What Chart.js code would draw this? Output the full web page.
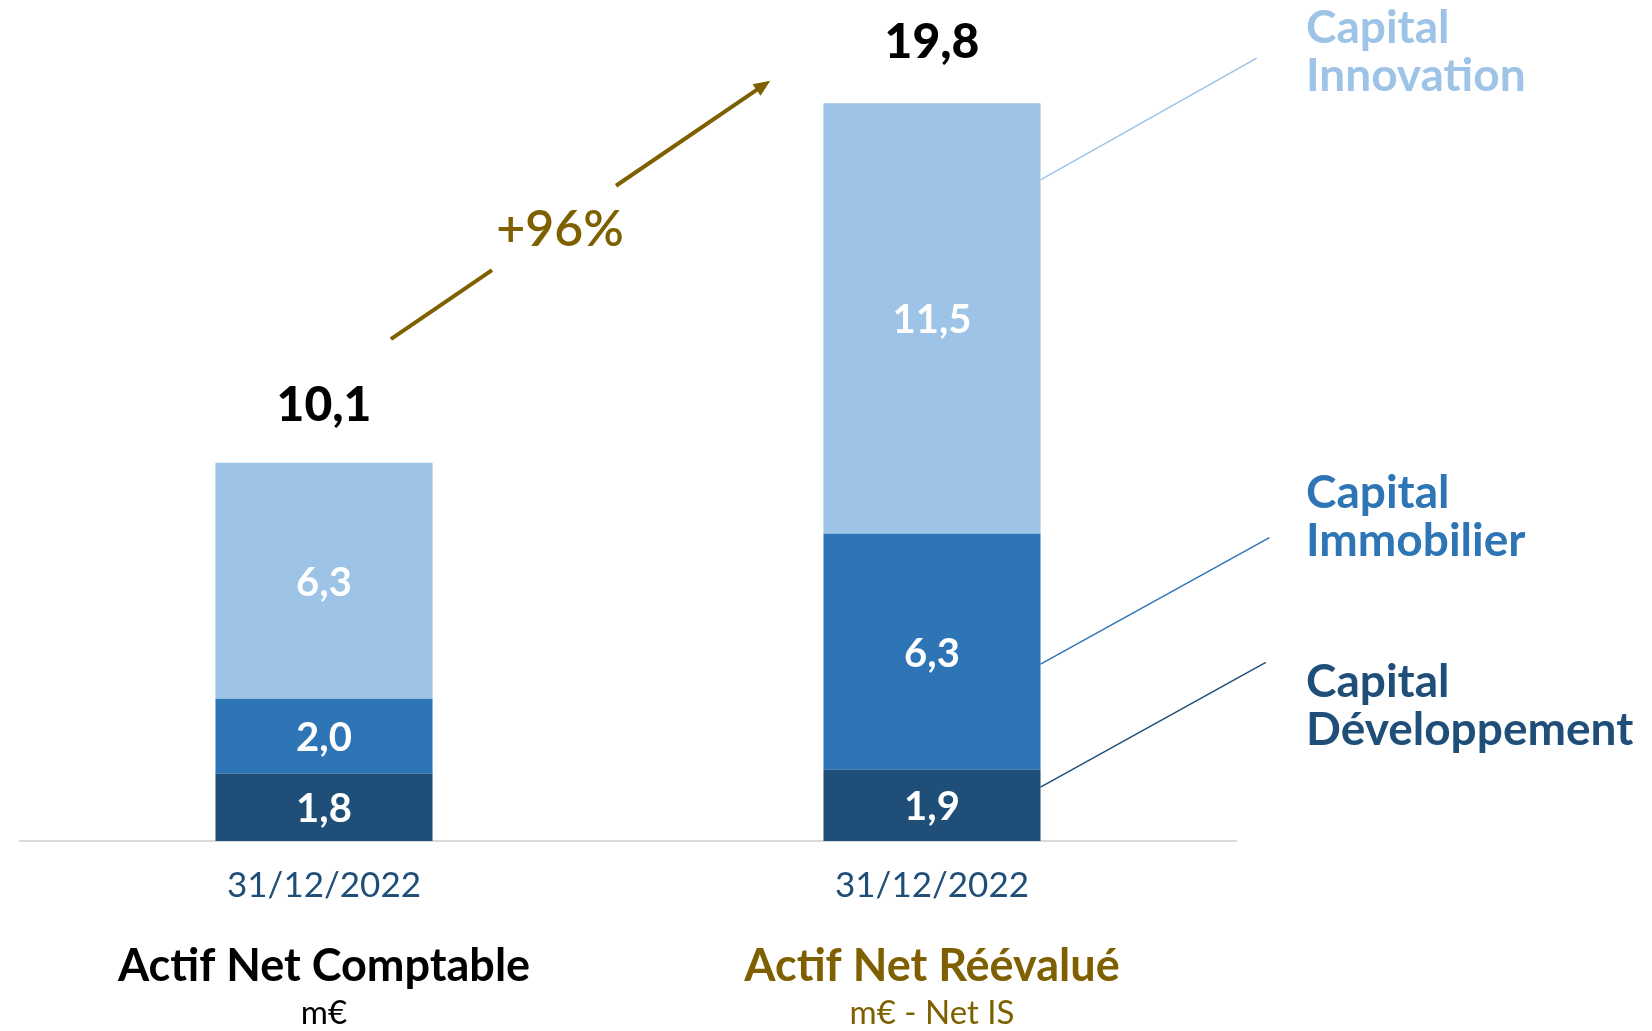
<!DOCTYPE html>
<html>
<head>
<meta charset="utf-8">
<script src="https://cdn.jsdelivr.net/npm/chart.js@4/dist/chart.umd.min.js"></script>
<style>
  html, body { margin: 0; padding: 0; background: #fff; }
  canvas { display: block; }
</style>
</head>
<body>
<canvas id="chart" width="1652" height="1031"></canvas>
<script>
// data (m€)
const categories = ['31/12/2022', '31/12/2022'];
const developpement = [1.8, 1.9];
const immobilier = [2.0, 6.3];
const innovation = [6.3, 11.5];
const totals = [10.1, 19.8];
const titles = ['Actif Net Comptable', 'Actif Net Réévalué'];
const subtitles = ['m€', 'm€ - Net IS'];
const growth = '+96%';

const FONT = 'Lato, "Open Sans", sans-serif';
const NAVY = '#1F4E79';
const BLUE = '#2E75B6';
const LIGHT = '#9DC3E6';
const GOLD = '#7F6000';

const fmt = (v) => v.toFixed(1).replace('.', ',');

// series labels on the right, with a leader line from the second bar
// from/to are in data space: [category index, value]
const seriesLabels = [
  { lines: ['Capital', 'Innovation'], color: LIGHT, from: 17.65, to: [1.534, 20.9], textY: 21.7 },
  { lines: ['Capital', 'Immobilier'], color: BLUE, from: 4.72, to: [1.555, 8.1], textY: 9.3 },
  { lines: ['Capital', 'Développement'], color: NAVY, from: 1.44, to: [1.549, 4.77], textY: 4.25 },
];

const annotations = {
  id: 'annotations',
  afterDatasetsDraw(chart) {
    const { ctx, scales: { x, y } } = chart;
    ctx.save();
    ctx.textAlign = 'center';
    ctx.textBaseline = 'middle';

    // values inside the segments
    chart.data.datasets.forEach((ds, i) => {
      const meta = chart.getDatasetMeta(i);
      meta.data.forEach((bar, j) => {
        const p = bar.getProps(['x', 'y', 'base'], true);
        ctx.fillStyle = '#ffffff';
        ctx.font = 'bold 40px ' + FONT;
        ctx.fillText(fmt(ds.data[j]), p.x, (p.y + p.base) / 2 + 2);
      });
    });

    // totals above the bars
    totals.forEach((t, j) => {
      ctx.fillStyle = '#000000';
      ctx.font = '900 48px ' + FONT;
      ctx.fillText(fmt(t), x.getPixelForValue(j), y.getPixelForValue(t) - 57);
    });

    // titles under the dates
    titles.forEach((t, j) => {
      const cx = x.getPixelForValue(j);
      ctx.fillStyle = j === 0 ? '#000000' : GOLD;
      ctx.font = 'bold 45px ' + FONT;
      ctx.fillText(t, cx, 966);
      ctx.font = '33px ' + FONT;
      ctx.fillText(subtitles[j], cx, 1013);
    });

    // growth arrow with a gap for its label
    const x0 = x.getPixelForValue(0.11), y0 = y.getPixelForValue(13.4);
    const x1 = x.getPixelForValue(0.734), y1 = y.getPixelForValue(20.3);
    const ang = Math.atan2(y1 - y0, x1 - x0);
    const mx = x0 + (x1 - x0) * 0.43, my = y0 + (y1 - y0) * 0.43;
    const gap = 75;
    ctx.strokeStyle = GOLD;
    ctx.fillStyle = GOLD;
    ctx.lineWidth = 4;
    ctx.beginPath();
    ctx.moveTo(x0, y0);
    ctx.lineTo(mx - Math.cos(ang) * gap, my - Math.sin(ang) * gap);
    ctx.moveTo(mx + Math.cos(ang) * gap, my + Math.sin(ang) * gap);
    ctx.lineTo(x1 - Math.cos(ang) * 12, y1 - Math.sin(ang) * 12);
    ctx.stroke();
    ctx.beginPath();
    ctx.moveTo(x1, y1);
    ctx.lineTo(x1 - Math.cos(ang - 0.4) * 18, y1 - Math.sin(ang - 0.4) * 18);
    ctx.lineTo(x1 - Math.cos(ang + 0.4) * 18, y1 - Math.sin(ang + 0.4) * 18);
    ctx.closePath();
    ctx.fill();
    ctx.font = '600 50px ' + FONT;
    ctx.fillText(growth, mx + 6, my + 2);

    // series names with leader lines
    ctx.textAlign = 'left';
    const bar = chart.getDatasetMeta(0).data[1];
    const fx = bar.x + bar.width / 2;
    seriesLabels.forEach((s) => {
      ctx.strokeStyle = s.color;
      ctx.lineWidth = 1.5;
      ctx.beginPath();
      ctx.moveTo(fx, y.getPixelForValue(s.from));
      ctx.lineTo(x.getPixelForValue(s.to[0]), y.getPixelForValue(s.to[1]));
      ctx.stroke();
      ctx.fillStyle = s.color;
      ctx.font = 'bold 46px ' + FONT;
      const ty = y.getPixelForValue(s.textY);
      s.lines.forEach((ln, k) => ctx.fillText(ln, 1306, ty + k * 48));
    });
    ctx.restore();
  }
};

new Chart(document.getElementById('chart'), {
  type: 'bar',
  data: {
    labels: categories,
    datasets: [
      { label: 'Capital Développement', data: developpement, backgroundColor: NAVY },
      { label: 'Capital Immobilier', data: immobilier, backgroundColor: BLUE },
      { label: 'Capital Innovation', data: innovation, backgroundColor: LIGHT },
    ],
  },
  options: {
    responsive: false,
    animation: false,
    events: [],
    layout: { padding: { left: 20, right: 416, top: 17, bottom: 100 } },
    datasets: { bar: { categoryPercentage: 0.357, barPercentage: 1 } },
    plugins: { legend: { display: false }, tooltip: { enabled: false } },
    scales: {
      x: {
        stacked: true,
        grid: { display: false, drawTicks: false },
        border: { display: true, color: '#D9D9D9', width: 2 },
        ticks: { padding: 24, color: NAVY, font: { family: FONT, size: 35 } },
      },
      y: {
        stacked: true,
        display: false,
        min: 0,
        max: 22,
      },
    },
  },
  plugins: [annotations],
});
</script>
</body>
</html>
